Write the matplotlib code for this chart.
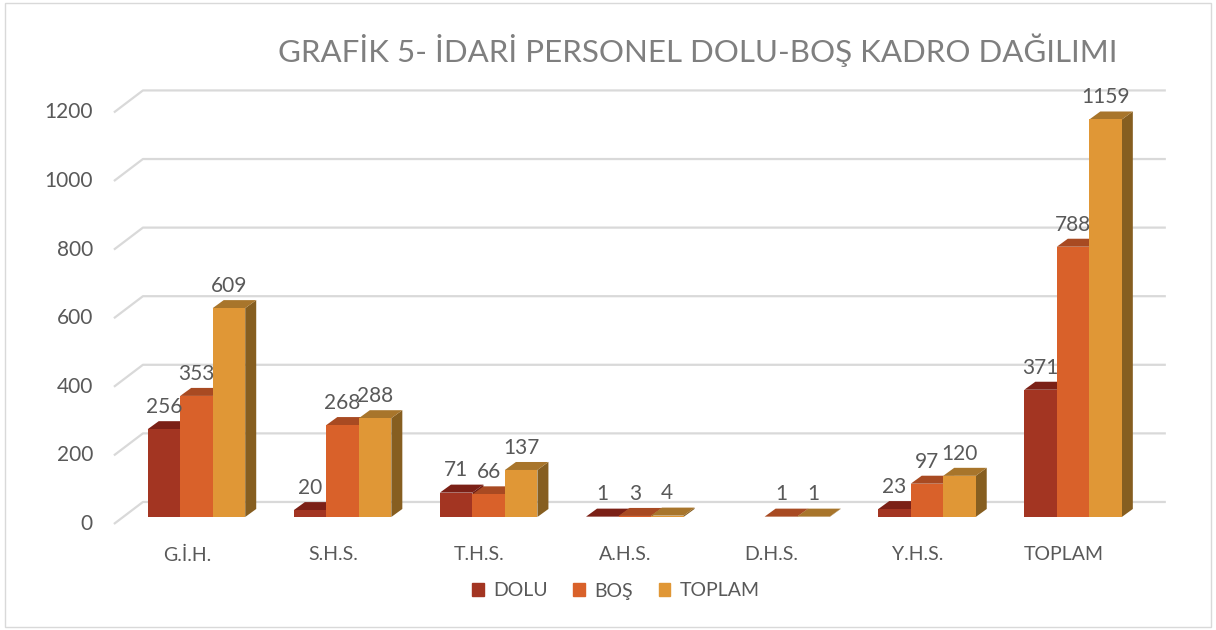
import matplotlib
matplotlib.use("Agg")
import matplotlib.pyplot as plt
from matplotlib.patches import Polygon, Rectangle, Patch

categories = ["G.İ.H.", "S.H.S.", "T.H.S.", "A.H.S.", "D.H.S.", "Y.H.S.", "TOPLAM"]
dolu = [256, 20, 71, 1, 0, 23, 371]
bos = [353, 268, 66, 3, 1, 97, 788]
toplam = [609, 288, 137, 4, 1, 120, 1159]
series_names = ["DOLU", "BOŞ", "TOPLAM"]
yticks = [0, 200, 400, 600, 800, 1000, 1200]

front_colors = ["#A33522", "#D9612A", "#E09736"]
top_colors = ["#7B2016", "#A84A22", "#A8752B"]
side_colors = ["#6E1C12", "#95401C", "#865E20"]
text_color = "#595959"

plt.rcParams["font.family"] = ["Lato", "DejaVu Sans"]

W, H, DPI = 12.16, 6.3, 100
fig = plt.figure(figsize=(W, H), dpi=DPI)
xlim = (-0.7, 6.7)
ylim = (-70, 1280)
ax_w, ax_h = 0.8891, 0.7349
ax = fig.add_axes([0.07747, 0.1413, ax_w, ax_h])
ax.set_xlim(*xlim)
ax.set_ylim(*ylim)
ax.axis("off")

# pixel offsets -> data units (fake 3d depth)
px_x = W * DPI * ax_w / (xlim[1] - xlim[0])
px_y = H * DPI * ax_h / (ylim[1] - ylim[0])


def dx(p):
    return p / px_x


def dy(p):
    return p / px_y


# back wall gridlines with the slanted side wall part
x_front = -0.565
x_back = x_front + dx(29)
x_end = 6.635
for v in yticks:
    ax.plot([x_front, x_back, x_end], [v - dy(7), v + dy(15), v + dy(15)],
            color="#D9D9D9", lw=1.6, zorder=1, solid_capstyle="butt")
    ax.text(x_front - dx(21), v - dy(7), str(v), ha="right", va="center",
            fontsize=15, color=text_color)

# bars
width = dx(32.5)
ddx, ddy = dx(11), dy(8)
series = [dolu, bos, toplam]
for i in range(len(categories)):
    for s, vals in enumerate(series):
        h = vals[i]
        if h == 0:
            continue
        c = i + (s - 1) * width
        l, r = c - width / 2, c + width / 2
        ax.add_patch(Polygon([(r, 0), (r, h), (r + ddx, h + ddy), (r + ddx, ddy)],
                             closed=True, fc=side_colors[s], ec="none", zorder=2))
        ax.add_patch(Polygon([(l, h), (l + ddx, h + ddy), (r + ddx, h + ddy), (r, h)],
                             closed=True, fc=top_colors[s], ec="none", zorder=2))
        ax.bar(c, h, width, color=front_colors[s], zorder=2)
        ax.annotate(str(h), (c, h + ddy), xytext=(0, 3), textcoords="offset points",
                    ha="center", va="bottom", fontsize=15, color=text_color, zorder=3)
    ax.text(i - dx(9.5), -dy(38), categories[i], ha="center", va="center",
            fontsize=14, color=text_color)

fig.text(698 / 1216, 1 - 50 / 630, "GRAFİK 5- İDARİ PERSONEL DOLU-BOŞ KADRO DAĞILIMI",
         ha="center", va="center", fontsize=22.5, color="#7F7F7F")

handles = [Patch(color=front_colors[s], label=series_names[s]) for s in range(3)]
fig.legend(handles=handles, loc="center", bbox_to_anchor=(616 / 1216, 1 - 591 / 630),
           ncol=3, frameon=False, fontsize=14, labelcolor=text_color,
           handlelength=0.6, handleheight=0.6, handletextpad=0.5, columnspacing=1.3)

fig.patches.append(Rectangle((5 / 1216, 3 / 630), 1206 / 1216, 624 / 630,
                             transform=fig.transFigure, fill=False,
                             ec="#D9D9D9", lw=1))

fig.savefig("out.png", dpi=DPI, facecolor="white")
